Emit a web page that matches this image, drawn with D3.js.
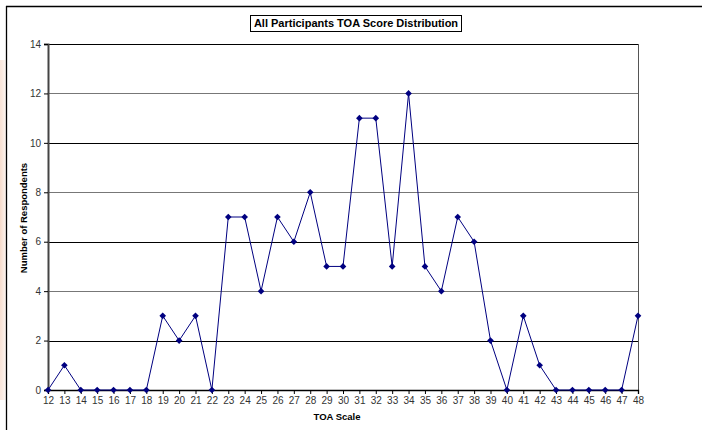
<!DOCTYPE html>
<html><head><meta charset="utf-8">
<script src="https://cdn.jsdelivr.net/npm/d3@7"></script>
<style>body{margin:0;background:#fff}svg{display:block}</style>
</head><body>
<svg id="c" width="702" height="430"></svg>
<script>
const scores = [12,13,14,15,16,17,18,19,20,21,22,23,24,25,26,27,28,29,30,31,32,33,34,35,36,37,38,39,40,41,42,43,44,45,46,47,48];
const respondents = [0,1,0,0,0,0,0,3,2,3,0,7,7,4,7,6,8,5,5,11,11,5,12,5,4,7,6,2,0,3,1,0,0,0,0,0,3];
const yTicks = [0,2,4,6,8,10,12,14];
const title = "All Participants TOA Score Distribution";
const xTitle = "TOA Scale";
const yTitle = "Number of Respondents";

const svg = d3.select("#c");
const font = "Liberation Sans, Arial, sans-serif";

// faint tint on left edge
const defs = svg.append("defs");
const g1 = defs.append("radialGradient").attr("id","tint").attr("cx","0%").attr("cy","50%").attr("r","100%");
g1.append("stop").attr("offset","0%").attr("stop-color","#f6d9c8");
g1.append("stop").attr("offset","100%").attr("stop-color","#fdf6f2");
svg.append("rect").attr("x",0).attr("y",60).attr("width",6).attr("height",340).attr("fill","url(#tint)");

// frame
svg.append("line").attr("x1",6.5).attr("x2",6.5).attr("y1",6).attr("y2",430).attr("stroke","#000").attr("stroke-width",1.3);
svg.append("line").attr("x1",6).attr("x2",702).attr("y1",6.5).attr("y2",6.5).attr("stroke","#000").attr("stroke-width",1.3);

const x = d3.scaleLinear().domain([12,48]).range([48,638]);
const y = d3.scaleLinear().domain([0,14]).range([390,44]);

// gridlines
svg.append("g").selectAll("line").data(yTicks.filter(d=>d>0)).join("line")
  .attr("x1",48).attr("x2",638)
  .attr("y1",d=>Math.round(y(d))+0.5).attr("y2",d=>Math.round(y(d))+0.5)
  .attr("stroke",d=> (d/2)%2===0 ? "#777" : "#000").attr("stroke-width",1);

// right border
svg.append("line").attr("x1",638.5).attr("x2",638.5).attr("y1",44).attr("y2",390).attr("stroke","#555").attr("stroke-width",1);

// y axis
const yAxis = svg.append("g").attr("transform","translate(48,0)")
  .call(d3.axisLeft(y).tickValues(yTicks).tickSize(4).tickPadding(3));
yAxis.select(".domain").attr("stroke","#444").attr("stroke-width",2);
yAxis.selectAll(".tick line").attr("stroke","#000");
yAxis.selectAll("text").attr("font-family",font).attr("font-size","10px").attr("fill","#333");

// x axis
const xAxis = svg.append("g").attr("transform","translate(0,390)")
  .call(d3.axisBottom(x).tickValues(scores).tickFormat(d3.format("d")).tickSize(4).tickPadding(3));
xAxis.select(".domain").attr("stroke","#000").attr("stroke-width",1.3);
xAxis.selectAll(".tick line").attr("stroke","#000");
xAxis.selectAll("text").attr("font-family",font).attr("font-size","10px").attr("fill","#333");

const data = scores.map((s,i)=>({s, v: respondents[i]}));
svg.append("path").datum(data)
  .attr("d", d3.line().x(d=>x(d.s)).y(d=>y(d.v)))
  .attr("fill","none").attr("stroke","#000080").attr("stroke-width",1);

svg.append("g").selectAll("path").data(data).join("path")
  .attr("transform",d=>`translate(${x(d.s)},${y(d.v)})`)
  .attr("d", d3.symbol(d3.symbolDiamond2 || d3.symbolDiamond, 28)())
  .attr("fill","#000080");

// title
const titleRect = svg.append("rect").attr("fill","#fff").attr("stroke","#000").attr("stroke-width",1);
const tt = svg.append("text").attr("x",356).attr("y",27).attr("text-anchor","middle")
  .attr("font-family",font).attr("font-weight","bold").attr("font-size","11px").text(title);
const bb = tt.node().getBBox();
titleRect.attr("x",Math.round(bb.x)-3.5).attr("y",15.5).attr("width",Math.round(bb.width)+7).attr("height",16);

svg.append("text").attr("x",337).attr("y",420).attr("text-anchor","middle")
  .attr("font-family",font).attr("font-weight","bold").attr("font-size","9.5px").text(xTitle);
svg.append("text").attr("transform","translate(27,218) rotate(-90)").attr("text-anchor","middle")
  .attr("font-family",font).attr("font-weight","bold").attr("font-size","9.5px").text(yTitle);
</script>
</body></html>
